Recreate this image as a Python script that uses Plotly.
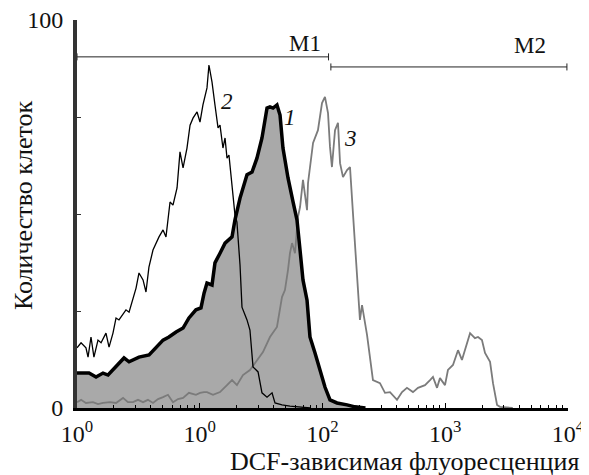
import math
import plotly.graph_objects as go

# ---- data (log10 of fluorescence, cell count %) ----
c1_logx = [0.0, 0.033, 0.098, 0.155, 0.212, 0.253, 0.318, 0.383, 0.424, 0.505, 0.587, 0.644, 0.701,
           0.749, 0.807, 0.864, 0.912, 0.969, 1.010, 1.035, 1.059, 1.100, 1.124, 1.165, 1.206, 1.263,
           1.287, 1.328, 1.385, 1.426, 1.466, 1.507, 1.548, 1.572, 1.597, 1.629, 1.654, 1.678, 1.719,
           1.760, 1.792, 1.817, 1.841, 1.874, 1.898, 1.939, 1.980, 2.020, 2.061, 2.118, 2.200, 2.265, 2.35]
c1_y = [9.0, 9.0, 9.0, 8.0, 9.0, 8.5, 10.6, 12.9, 11.9, 13.1, 13.7, 15.5, 17.5,
        18.3, 19.6, 20.6, 23.2, 25.3, 25.8, 29.6, 32.2, 31.7, 37.4, 39.9, 42.5, 44.1,
        48.5, 54.1, 60.1, 60.8, 64.4, 69.6, 77.3, 77.6, 77.3, 78.1, 75.5, 67.0, 59.3,
        53.1, 48.5, 40.7, 33.0, 27.8, 18.3, 14.2, 9.8, 5.4, 2.1, 1.3, 0.8, 0.3, 0.0]

c2_logx = [0.0, 0.033, 0.073, 0.090, 0.114, 0.138, 0.171, 0.196, 0.236, 0.261, 0.293, 0.318, 0.342,
           0.399, 0.424, 0.456, 0.481, 0.505, 0.538, 0.562, 0.586, 0.619, 0.644, 0.668, 0.701, 0.725,
           0.758, 0.782, 0.815, 0.839, 0.864, 0.896, 0.921, 0.945, 0.978, 1.002, 1.026, 1.059, 1.075,
           1.100, 1.124, 1.149, 1.165, 1.189, 1.206, 1.222, 1.238, 1.263, 1.287, 1.303, 1.328, 1.344,
           1.385, 1.409, 1.434, 1.475, 1.507, 1.548, 1.589, 1.613, 1.670, 1.735, 1.820, 1.90]
c2_y = [15.5, 16.8, 15.5, 13.1, 18.3, 13.1, 17.5, 16.8, 19.3, 15.7, 19.3, 23.2, 22.7,
        25.3, 24.7, 28.6, 30.9, 34.8, 33.0, 29.9, 36.3, 40.7, 42.5, 44.1, 45.9, 44.1,
        53.1, 52.3, 56.7, 66.0, 61.9, 67.0, 72.9, 74.7, 76.3, 73.7, 78.1, 82.5, 88.4,
        84.0, 78.1, 72.2, 72.9, 67.0, 69.6, 64.4, 65.2, 56.7, 49.7, 47.9, 36.9, 26.0,
        22.7, 20.1, 10.6, 9.3, 3.9, 2.8, 3.9, 1.3, 0.8, 0.5, 0.3, 0.0]

c3_logx = [0.0, 0.033, 0.073, 0.130, 0.171, 0.212, 0.269, 0.318, 0.375, 0.415, 0.456, 0.497, 0.538,
           0.578, 0.619, 0.660, 0.701, 0.741, 0.782, 0.823, 0.864, 0.912, 0.969, 1.002, 1.035, 1.059,
           1.108, 1.165, 1.222, 1.263, 1.303, 1.352, 1.409, 1.466, 1.515, 1.572, 1.629, 1.670, 1.694,
           1.719, 1.735, 1.752, 1.776, 1.800, 1.817, 1.841, 1.857, 1.874, 1.882, 1.923, 1.963, 1.996,
           2.020, 2.045, 2.061, 2.077, 2.102, 2.126, 2.143, 2.167, 2.200, 2.224, 2.248, 2.281, 2.305,
           2.322, 2.363, 2.411, 2.468, 2.509, 2.550, 2.607, 2.648, 2.688, 2.737, 2.778, 2.835, 2.876,
           2.900, 2.933, 2.957, 2.998, 3.022, 3.063, 3.104, 3.136, 3.177, 3.202, 3.242, 3.267, 3.299,
           3.324, 3.365, 3.389, 3.422, 3.446, 3.55]
c3_y = [1.5, 2.1, 1.3, 1.5, 1.0, 1.3, 1.5, 1.3, 2.6, 1.5, 1.5, 2.1, 1.5,
        2.1, 1.3, 2.3, 2.8, 3.4, 1.5, 2.3, 2.6, 3.9, 3.4, 3.9, 4.1, 4.1,
        3.4, 4.1, 5.9, 7.2, 5.9, 8.5, 9.8, 12.4, 14.4, 18.3, 20.9, 28.6, 30.4,
        35.6, 39.9, 42.5, 39.9, 49.2, 51.8, 58.8, 55.4, 51.0, 58.0, 68.3, 71.6, 78.6,
        80.2, 76.0, 67.3, 62.1, 71.6, 73.5, 63.1, 59.5, 61.3, 62.1, 50.3, 33.0, 22.7,
        26.5, 18.8, 7.2, 6.4, 3.9, 4.1, 2.1, 4.1, 5.2, 4.1, 5.2, 5.9, 7.2,
        8.0, 5.2, 7.7, 5.9, 9.8, 11.1, 14.9, 12.4, 16.8, 19.3, 18.0, 18.3, 17.5,
        14.2, 11.9, 6.4, 0.8, 0.3, 0.0]

gate_names = ["M1", "M2"]
gate_start = [1.0, 117.0]
gate_end = [112.0, 9800.0]
gate_level = [90.5, 87.9]
gate_label_x = [72.0, 4900.0]
gate_label_y = [94.0, 93.5]

curve_labels = ["1", "2", "3"]
curve_label_x = [54.0, 16.7, 168.0]
curve_label_y = [75.0, 79.0, 69.5]

x_tickvals = [1, 10, 100, 1000, 10000]
x_ticktext = ["10<sup>0</sup>", "10<sup>0</sup>", "10<sup>2</sup>", "10<sup>3</sup>", "10<sup>4</sup>"]
y_tickvals = [0, 25, 50, 75, 100]
y_ticktext = ["0", "", "", "", "100"]

x_title = "DCF-зависимая флуоресценция"
y_title = "Количество клеток"

def to_lin(v):
    return [10 ** a for a in v]

FONT = "Liberation Serif, Times New Roman, serif"

fig = go.Figure()
x1 = to_lin(c1_logx)
x2 = to_lin(c2_logx)
x3 = to_lin(c3_logx)

# filled area of curve 1
fig.add_trace(go.Scatter(x=x1, y=c1_y, mode="lines", fill="tozeroy",
                         fillcolor="#a9a9a9", line=dict(width=0, color="rgba(0,0,0,0)"),
                         hoverinfo="skip", showlegend=False))
# curve 3
fig.add_trace(go.Scatter(x=x3, y=c3_y, mode="lines", line=dict(color="#7b7b7b", width=1.8),
                         showlegend=False))
# curve 2
fig.add_trace(go.Scatter(x=x2, y=c2_y, mode="lines", line=dict(color="#000000", width=1.3),
                         showlegend=False))
# curve 1 outline
fig.add_trace(go.Scatter(x=x1, y=c1_y, mode="lines", line=dict(color="#000000", width=3.5),
                         showlegend=False))

# gates
for i in range(len(gate_names)):
    fig.add_trace(go.Scatter(x=[gate_start[i], gate_end[i]], y=[gate_level[i]] * 2,
                             mode="lines+markers",
                             line=dict(color="#222222", width=1),
                             marker=dict(symbol="line-ns-open", size=5,
                                         line=dict(color="#222222", width=1)),
                             showlegend=False))
    fig.add_annotation(x=math.log10(gate_label_x[i]), y=gate_label_y[i], text=gate_names[i],
                       showarrow=False, xref="x", yref="y", xanchor="center", yanchor="middle",
                       font=dict(family=FONT, size=23, color="#111111"))

for i in range(len(curve_labels)):
    fig.add_annotation(x=math.log10(curve_label_x[i]), y=curve_label_y[i],
                       text="<i>" + curve_labels[i] + "</i>",
                       showarrow=False, xref="x", yref="y", xanchor="center", yanchor="middle",
                       font=dict(family=FONT, size=23, color="#111111"))

minor_vals = [m * 10 ** k for k in range(4) for m in range(2, 10)]

fig.add_annotation(x=0.668, y=-0.139, xref="paper", yref="paper", text=x_title,
                   showarrow=False, xanchor="center", yanchor="middle",
                   font=dict(family=FONT, size=26, color="#111111"))
fig.add_annotation(x=-0.11, y=0.523, xref="paper", yref="paper", text=y_title,
                   showarrow=False, textangle=-90, xanchor="center", yanchor="middle",
                   font=dict(family=FONT, size=26, color="#111111"))

# page body has an 8px margin: figure occupies (8,8)-(589,475)
fig.update_layout(
    width=581, height=467,
    margin=dict(l=69, r=21, t=12, b=67),
    paper_bgcolor="white", plot_bgcolor="white",
    font=dict(family=FONT, size=24, color="#111111"),
    xaxis=dict(type="log", range=[0, 4], tickvals=x_tickvals, ticktext=x_ticktext,
               automargin=False, ticklabeloverflow="allow",
               showgrid=False, zeroline=False, showline=True, linecolor="#000000", linewidth=3,
               ticks="inside", ticklen=5, tickwidth=1, tickcolor="#000000",
               minor=dict(tickvals=minor_vals, ticks="inside", ticklen=3, tickwidth=1,
                          tickcolor="#000000", showgrid=False),
               tickfont=dict(family=FONT, size=24, color="#111111"),
               ticklabelstandoff=2),
    yaxis=dict(range=[0, 100], tickvals=y_tickvals, ticktext=y_ticktext,
               automargin=False, ticklabeloverflow="allow",
               showgrid=False, zeroline=False, showline=True, linecolor="#333333", linewidth=4,
               ticks="inside", ticklen=4, tickwidth=1, tickcolor="#333333",
               tickfont=dict(family=FONT, size=24, color="#111111"),
               ticklabelstandoff=5),
)

fig.write_html("out.html")
